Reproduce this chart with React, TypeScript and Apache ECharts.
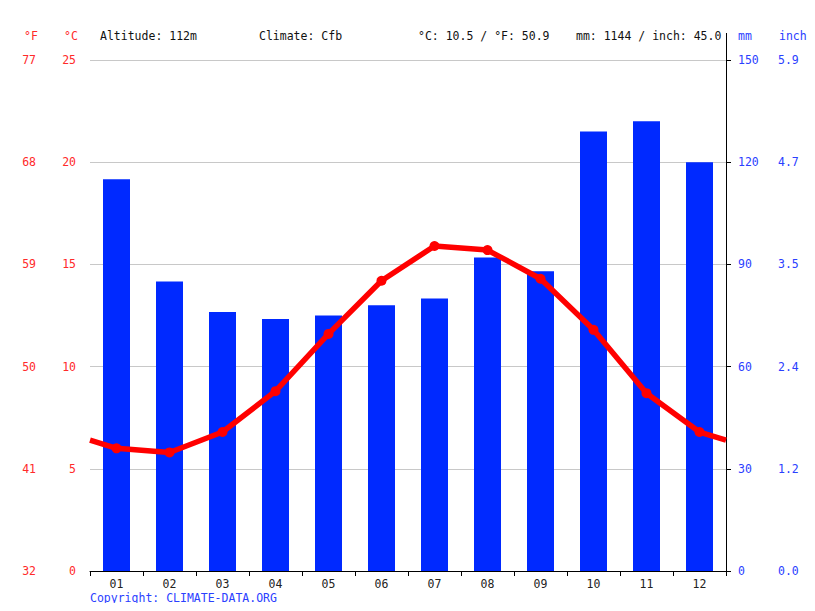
import React, { useEffect, useRef } from "react";
import * as echarts from "echarts";

const months = ["01", "02", "03", "04", "05", "06", "07", "08", "09", "10", "11", "12"];
const precipMm = [115, 85, 76, 74, 75, 78, 80, 92, 88, 129, 132, 120];
const tempC = [6.0, 5.8, 6.8, 8.8, 11.6, 14.2, 15.9, 15.7, 14.3, 11.8, 8.7, 6.8];
const headerTexts = [
  { text: "Altitude: 112m", x: 100 },
  { text: "Climate: Cfb", x: 259 },
  { text: "°C: 10.5 / °F: 50.9", x: 418 },
  { text: "mm: 1144 / inch: 45.0", x: 576 },
];

const FONT = "DejaVu Sans Mono";
const FS = 11.5;
const RED = "#ff2a2a";
const BLUE = "#2a40ff";

export default function App() {
  const ref = useRef<HTMLDivElement>(null);
  useEffect(() => {
    if (!ref.current) return;
    const chart = echarts.init(ref.current, null, { renderer: "svg" });
    const edge = (tempC[11] + tempC[0]) / 2;
    const lineData: any[] = [
      { value: [0.5, edge], symbol: "none" },
      ...tempC.map((t, i) => ({ value: [i + 1, t] })),
      { value: [12.5, edge], symbol: "none" },
    ];
    chart.setOption({
      animation: false,
      textStyle: { fontFamily: FONT },
      grid: { left: 90, right: 89, top: 60, bottom: 40 },
      xAxis: [
        {
          type: "category",
          data: months,
          boundaryGap: true,
          axisLine: { lineStyle: { color: "#000" } },
          axisTick: { show: true, length: 5, lineStyle: { color: "#000" } },
          axisLabel: { color: "#222", fontFamily: FONT, fontSize: FS, margin: 7 },
          splitLine: { show: false },
        },
        {
          type: "value",
          min: 0.5,
          max: 12.5,
          show: false,
        },
      ],
      yAxis: [
        {
          type: "value",
          min: 0,
          max: 25,
          interval: 5,
          position: "left",
          axisLine: { show: false },
          axisTick: { show: false },
          axisLabel: { color: RED, fontFamily: FONT, fontSize: FS, margin: 14 },
          splitLine: { show: true, lineStyle: { color: "#c8c8c8" } },
        },
        {
          type: "value",
          min: 0,
          max: 25,
          interval: 5,
          position: "left",
          offset: 40,
          axisLine: { show: false },
          axisTick: { show: false },
          axisLabel: {
            color: RED,
            fontFamily: FONT,
            fontSize: FS,
            margin: 14,
            formatter: (v: number) => String(Math.round((v * 9) / 5 + 32)),
          },
          splitLine: { show: false },
        },
        {
          type: "value",
          min: 0,
          max: 150,
          interval: 30,
          position: "right",
          axisLine: { show: true, lineStyle: { color: "#000" } },
          axisTick: { show: true, length: 5, lineStyle: { color: "#000" } },
          axisLabel: { color: BLUE, fontFamily: FONT, fontSize: FS, margin: 12 },
          splitLine: { show: false },
        },
        {
          type: "value",
          min: 0,
          max: 150,
          interval: 30,
          position: "right",
          offset: 40,
          axisLine: { show: false },
          axisTick: { show: false },
          axisLabel: {
            color: BLUE,
            fontFamily: FONT,
            fontSize: FS,
            margin: 12,
            formatter: (v: number) => (v / 25.4).toFixed(1),
          },
          splitLine: { show: false },
        },
      ],
      series: [
        {
          type: "bar",
          xAxisIndex: 0,
          yAxisIndex: 2,
          data: precipMm,
          barWidth: 27,
          itemStyle: { color: "#0029ff" },
          z: 2,
        },
        {
          type: "line",
          xAxisIndex: 1,
          yAxisIndex: 0,
          data: lineData,
          symbol: "circle",
          symbolSize: 10,
          lineStyle: { color: "#ff0000", width: 5.5 },
          itemStyle: { color: "#ff0000" },
          z: 5,
        },
      ],
      graphic: [
        ...headerTexts.map((h) => ({
          type: "text",
          left: h.x,
          top: 30,
          style: { text: h.text, fill: "#111", font: `${FS}px "${FONT}"` },
        })),
        { type: "text", left: 24, top: 30, style: { text: "°F", fill: RED, font: `${FS}px "${FONT}"` } },
        { type: "text", left: 64, top: 30, style: { text: "°C", fill: RED, font: `${FS}px "${FONT}"` } },
        { type: "text", left: 738, top: 30, style: { text: "mm", fill: BLUE, font: `${FS}px "${FONT}"` } },
        { type: "text", left: 779, top: 30, style: { text: "inch", fill: BLUE, font: `${FS}px "${FONT}"` } },
        {
          type: "text",
          left: 90,
          top: 592,
          style: { text: "Copyright: CLIMATE-DATA.ORG", fill: BLUE, font: `${FS}px "${FONT}"` },
        },
        {
          type: "line",
          shape: { x1: 726.5, y1: 33, x2: 726.5, y2: 60 },
          style: { stroke: "#000", lineWidth: 1 },
        },
      ],
    });
    return () => chart.dispose();
  }, []);
  return <div ref={ref} style={{ width: 815, height: 611, margin: -8 }} />;
}
